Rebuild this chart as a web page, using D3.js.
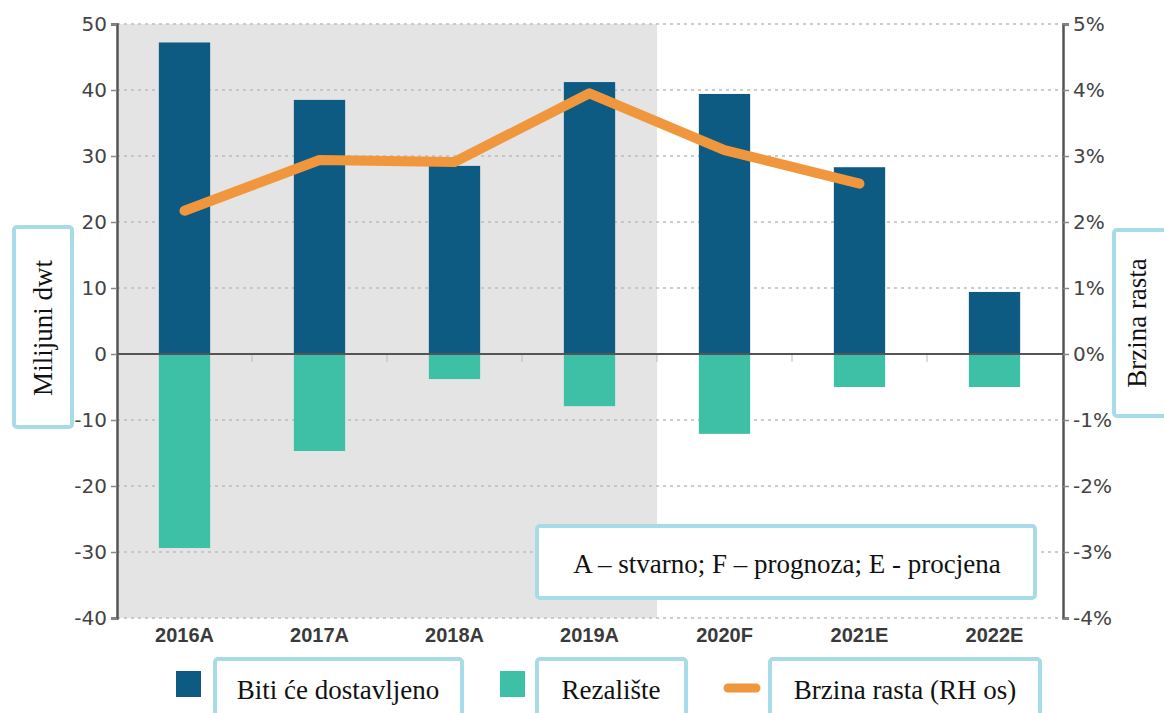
<!DOCTYPE html>
<html>
<head>
<meta charset="utf-8">
<script src="https://cdn.jsdelivr.net/npm/d3@7"></script>
<style>
  html, body { margin: 0; padding: 0; background: #ffffff; }
  svg { display: block; }
</style>
</head>
<body>
<svg id="chart" width="1164" height="713"></svg>
<script>
const categories = ["2016A", "2017A", "2018A", "2019A", "2020F", "2021E", "2022E"];
const delivered = [47.2, 38.5, 28.5, 41.2, 39.4, 28.3, 9.4];
const demolition = [-29.4, -14.7, -3.8, -7.9, -12.1, -5.0, -5.0];
const growth = [2.17, 2.94, 2.91, 3.95, 3.09, 2.58, null];
const leftTicks = [50, 40, 30, 20, 10, 0, -10, -20, -30, -40];
const rightTicks = [5, 4, 3, 2, 1, 0, -1, -2, -3, -4];
const actualCategories = ["2016A", "2017A", "2018A", "2019A"];
const leftTitle = "Milijuni dwt";
const rightTitle = "Brzina rasta";
const noteText = "A – stvarno; F – prognoza; E - procjena";
const legendLabels = ["Biti će dostavljeno", "Rezalište", "Brzina rasta (RH os)"];

const colDark = "#0d5a82", colTeal = "#3ec0a6", colOrange = "#f0963c";
const boxStroke = "#a8dbe8";

const svg = d3.select("#chart");
const X0 = 117, X1 = 1062, Y0 = 24, Y1 = 618;

const x = d3.scaleBand().domain(categories).range([X0, X1]).paddingInner(0.62).paddingOuter(0.31);
const y = d3.scaleLinear().domain([-40, 50]).range([Y1, Y0]);
const y2 = d3.scaleLinear().domain([-4, 5]).range([Y1, Y0]);

// shaded "actual" region
const lastActual = actualCategories[actualCategories.length - 1];
const shadeEnd = x(lastActual) + x.bandwidth() / 2 + x.step() / 2;
svg.append("rect").attr("x", X0).attr("y", Y0).attr("width", shadeEnd - X0).attr("height", Y1 - Y0)
  .attr("fill", "#e4e4e4");

// gridlines
svg.append("g").selectAll("line").data(leftTicks.filter(d => d !== 0)).join("line")
  .attr("x1", X0).attr("x2", X1 + 1).attr("y1", d => y(d)).attr("y2", d => y(d))
  .attr("stroke", "#bcbcbc").attr("stroke-width", 1.5).attr("stroke-dasharray", "3,4");

// bars
svg.append("g").selectAll("rect").data(categories).join("rect")
  .attr("x", d => x(d)).attr("width", x.bandwidth())
  .attr("y", (d, i) => y(delivered[i])).attr("height", (d, i) => y(0) - y(delivered[i]))
  .attr("fill", colDark);
svg.append("g").selectAll("rect").data(categories).join("rect")
  .attr("x", d => x(d)).attr("width", x.bandwidth())
  .attr("y", y(0)).attr("height", (d, i) => y(demolition[i]) - y(0))
  .attr("fill", colTeal);

// zero line
svg.append("line").attr("x1", X0).attr("x2", X1 + 1).attr("y1", y(0)).attr("y2", y(0))
  .attr("stroke", "#555").attr("stroke-width", 2);

// small category boundary ticks on zero line
const bounds = categories.slice(1).map(c => x(c) - x.step() * x.paddingInner() / 2);
svg.append("g").selectAll("line").data(bounds).join("line")
  .attr("x1", d => d).attr("x2", d => d).attr("y1", y(0) + 1).attr("y2", y(0) + 8)
  .attr("stroke", "#bbb").attr("stroke-width", 1);

// growth line
const lineGen = d3.line().defined(d => d.v != null)
  .x(d => x(d.c) + x.bandwidth() / 2).y(d => y2(d.v));
svg.append("path").datum(categories.map((c, i) => ({ c, v: growth[i] })))
  .attr("d", lineGen).attr("fill", "none").attr("stroke", colOrange)
  .attr("stroke-width", 10).attr("stroke-linejoin", "round").attr("stroke-linecap", "round");

// left axis
const axL = svg.append("g").attr("transform", `translate(${X0},0)`)
  .call(d3.axisLeft(y).tickValues(leftTicks).tickSize(6).tickPadding(4).tickFormat(d => String(d)));
axL.select(".domain").attr("stroke", "#555").attr("stroke-width", 2.5);
axL.selectAll(".tick line").attr("stroke", "#888").attr("stroke-width", 1.5);
axL.selectAll("text").attr("font-family", "DejaVu Sans, sans-serif").attr("font-size", 20).attr("fill", "#444");

// right axis
const axR = svg.append("g").attr("transform", `translate(${X1 + 1},0)`)
  .call(d3.axisRight(y2).tickValues(rightTicks).tickSize(6).tickPadding(4).tickFormat(d => String(d) + "%"));
axR.select(".domain").attr("stroke", "#555").attr("stroke-width", 2.5);
axR.selectAll(".tick line").attr("stroke", "#888").attr("stroke-width", 1.5);
axR.selectAll("text").attr("font-family", "DejaVu Sans, sans-serif").attr("font-size", 20).attr("fill", "#444");

// x axis labels
const axB = svg.append("g").attr("transform", `translate(0,${Y1})`)
  .call(d3.axisBottom(x).tickSize(0).tickPadding(10));
axB.select(".domain").remove();
axB.selectAll("text").attr("font-family", "Liberation Sans, Arial, sans-serif").attr("font-size", 20)
  .attr("font-weight", "bold").attr("fill", "#3a3a3a");

// helper for boxed labels
function box(x0, y0, w, h) {
  svg.append("rect").attr("x", x0).attr("y", y0).attr("width", w).attr("height", h).attr("rx", 3)
    .attr("fill", "#fff").attr("stroke", boxStroke).attr("stroke-width", 4);
}
const serif = "Liberation Serif, Times New Roman, serif";

// left title box
box(14, 227, 58, 200);
svg.append("text").attr("transform", `translate(52,328) rotate(-90)`).attr("text-anchor", "middle")
  .attr("font-family", serif).attr("font-size", 27).attr("fill", "#111").text(leftTitle);

// right title box
box(1114, 230, 54, 186);
svg.append("text").attr("transform", `translate(1146,323) rotate(-90)`).attr("text-anchor", "middle")
  .attr("font-family", serif).attr("font-size", 27).attr("fill", "#111").text(rightTitle);

// note box
box(537, 526, 498, 72);
svg.append("text").attr("x", 787).attr("y", 573).attr("text-anchor", "middle")
  .attr("font-family", serif).attr("font-size", 27).attr("fill", "#111").text(noteText);

// legend
svg.append("rect").attr("x", 176).attr("y", 671).attr("width", 25).attr("height", 26).attr("fill", colDark);
box(215, 659, 247, 60);
svg.append("text").attr("x", 338).attr("y", 699).attr("text-anchor", "middle")
  .attr("font-family", serif).attr("font-size", 27).attr("fill", "#111").text(legendLabels[0]);

svg.append("rect").attr("x", 500).attr("y", 671).attr("width", 25).attr("height", 26).attr("fill", colTeal);
box(537, 659, 149, 60);
svg.append("text").attr("x", 611).attr("y", 699).attr("text-anchor", "middle")
  .attr("font-family", serif).attr("font-size", 27).attr("fill", "#111").text(legendLabels[1]);

svg.append("line").attr("x1", 728).attr("x2", 756).attr("y1", 688).attr("y2", 688)
  .attr("stroke", colOrange).attr("stroke-width", 9).attr("stroke-linecap", "round");
box(770, 659, 270, 60);
svg.append("text").attr("x", 905).attr("y", 699).attr("text-anchor", "middle")
  .attr("font-family", serif).attr("font-size", 27).attr("fill", "#111").text(legendLabels[2]);
</script>
</body>
</html>
